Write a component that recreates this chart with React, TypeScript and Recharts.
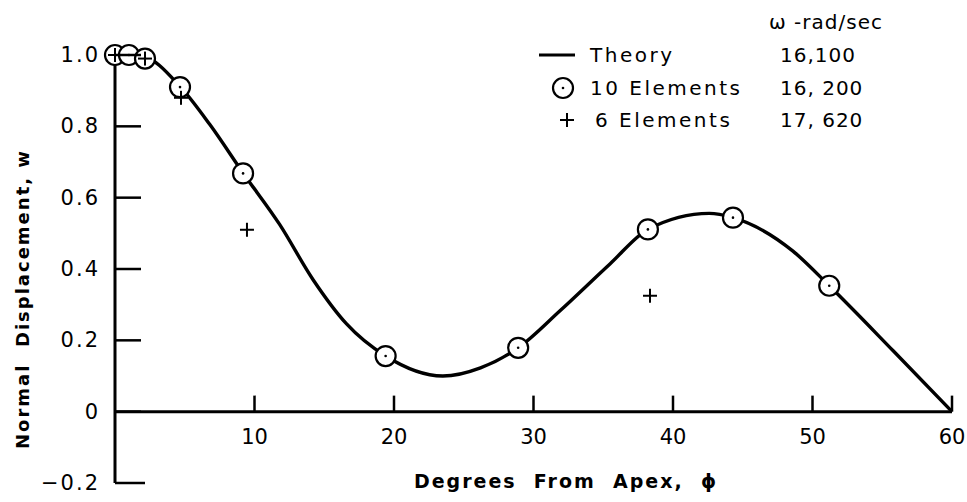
import React from "react";
import {
  ComposedChart,
  Line,
  Scatter,
  XAxis,
  YAxis,
  ReferenceLine,
  Label,
} from "recharts";

// theory curve
const theoryPhi = [0, 2, 4.7, 6.8, 9.2, 11.8, 14.2, 16.6, 19.4, 23.5, 26.2, 28.9, 31.9, 35.5, 38.2, 42.6, 44.3, 48.6, 51.2, 55.8, 60];
const theoryW = [1.0, 0.995, 0.91, 0.805, 0.668, 0.525, 0.37, 0.246, 0.156, 0.1, 0.123, 0.179, 0.283, 0.415, 0.511, 0.556, 0.544, 0.45, 0.353, 0.17, 0];

const tenPhi = [0, 1.0, 2.15, 4.66, 9.18, 19.4, 28.9, 38.2, 44.3, 51.2];
const tenW = [1.0, 1.0, 0.99, 0.91, 0.668, 0.156, 0.179, 0.511, 0.544, 0.353];

const sixPhi = [0, 2.15, 4.73, 9.46, 38.35];
const sixW = [1.0, 0.99, 0.88, 0.51, 0.325];

const xTicks = [10, 20, 30, 40, 50, 60];
const yTicks = [-0.2, 0, 0.2, 0.4, 0.6, 0.8, 1.0];

const legendNames = ["Theory", "10 Elements", "6 Elements"];
const legendOmega = ["16,100", "16, 200", "17, 620"];

const toRows = (xs: number[], ys: number[]) => xs.map((phi, i) => ({ phi, w: ys[i] }));

const theory = toRows(theoryPhi, theoryW);
const tenElements = toRows(tenPhi, tenW);
const sixElements = toRows(sixPhi, sixW);

const FONT = '"DejaVu Sans", sans-serif';

function RingDot({ cx, cy }: any) {
  return (
    <g>
      <circle cx={cx} cy={cy} r={10} fill="#fff" stroke="#000" strokeWidth={2.2} />
      <circle cx={cx} cy={cy} r={1.3} fill="#000" />
    </g>
  );
}

function PlusMark({ cx, cy }: any) {
  return (
    <g stroke="#000" strokeWidth={2}>
      <line x1={cx - 7} y1={cy} x2={cx + 7} y2={cy} />
      <line x1={cx} y1={cy - 7} x2={cx} y2={cy + 7} />
    </g>
  );
}

function YTick({ x, y, payload }: any) {
  const v = payload.value as number;
  const txt = v === 0 ? "0" : v < 0 ? "\u2212" + Math.abs(v).toFixed(1) : v.toFixed(1);
  const len = v < 0 ? 30 : 26;
  return (
    <g>
      <line x1={x} y1={y} x2={x + len} y2={y} stroke="#000" strokeWidth={2.5} />
      <text
        x={x - 15}
        y={y}
        textAnchor="end"
        dominantBaseline="central"
        fontFamily={FONT}
        fontSize={21}
        letterSpacing={2}
        fill="#000"
      >
        {txt}
      </text>
    </g>
  );
}

function YLabel() {
  return (
    <text
      x={22}
      y={299}
      transform="rotate(-90, 22, 299)"
      textAnchor="middle"
      dominantBaseline="central"
      fontFamily={FONT}
      fontWeight="bold"
      fontSize={18}
      letterSpacing={2}
      style={{ whiteSpace: "pre" }}
      fill="#000"
    >
      {"Normal  Displacement, w"}
    </text>
  );
}

function XLabel() {
  return (
    <text
      x={566}
      y={481}
      textAnchor="middle"
      dominantBaseline="central"
      fontFamily={FONT}
      fontWeight="bold"
      fontSize={19}
      letterSpacing={2}
      style={{ whiteSpace: "pre" }}
      fill="#000"
    >
      {"Degrees  From  Apex,  \u03d5"}
    </text>
  );
}

function LegendIcon({ i }: { i: number }) {
  return (
    <svg width={50} height={28}>
      {i === 0 && <line x1={4} y1={14} x2={40} y2={14} stroke="#000" strokeWidth={3} />}
      {i === 1 && <RingDot cx={28} cy={14} />}
      {i === 2 && <PlusMark cx={32} cy={14} />}
    </svg>
  );
}

export default function App() {
  return (
    <div style={{ position: "absolute", left: 0, top: 0, width: 967, height: 502, background: "#fff" }}>
      <ComposedChart
        width={967}
        height={502}
        margin={{ top: 55, right: 15, bottom: 0, left: 15 }}
      >
        <XAxis
          type="number"
          dataKey="phi"
          domain={[0, 60]}
          ticks={xTicks}
          tick={false}
          tickLine={false}
          axisLine={false}
          height={19}
        >
          <Label content={<XLabel />} />
        </XAxis>
        <YAxis
          type="number"
          domain={[-0.2, 1.0]}
          ticks={yTicks}
          width={100}
          tickSize={0}
          tickMargin={0}
          tickLine={false}
          axisLine={{ stroke: "#000", strokeWidth: 3 }}
          tick={<YTick />}
          interval={0}
        >
          <Label content={<YLabel />} />
        </YAxis>
        <ReferenceLine y={0} stroke="#000" strokeWidth={3} />
        {xTicks.map((t) => (
          <ReferenceLine
            key={t}
            segment={[{ x: t, y: 0 }, { x: t, y: 0.045 }]}
            stroke="#000"
            strokeWidth={2.5}
            label={{
              value: String(t),
              position: "bottom",
              offset: 17,
              fontFamily: FONT,
              fontSize: 21,
              fill: "#000",
            }}
          />
        ))}
        <Line
          data={theory}
          dataKey="w"
          type="monotone"
          stroke="#000"
          strokeWidth={3.4}
          dot={false}
          activeDot={false}
          isAnimationActive={false}
        />
        <Scatter data={tenElements} dataKey="w" shape={<RingDot />} isAnimationActive={false} />
        <Scatter data={sixElements} dataKey="w" shape={<PlusMark />} isAnimationActive={false} />
      </ComposedChart>

      <div style={{ position: "absolute", left: 0, top: 0, fontFamily: FONT, fontSize: 20, color: "#000" }}>
        <div style={{ position: "absolute", left: 769, top: 8, lineHeight: "28px", letterSpacing: 1, whiteSpace: "nowrap" }}>
          {"\u03c9 -rad/sec"}
        </div>
        {legendNames.map((name, i) => (
          <div
            key={name}
            style={{ position: "absolute", left: 535, top: 41 + i * 32.5, height: 28, display: "flex", alignItems: "center", whiteSpace: "nowrap" }}
          >
            <LegendIcon i={i} />
            <span style={{ letterSpacing: 2.5, marginLeft: i === 2 ? 10 : 5 }}>{name}</span>
            <span style={{ position: "absolute", left: 245, letterSpacing: 1 }}>{legendOmega[i]}</span>
          </div>
        ))}
      </div>
    </div>
  );
}
